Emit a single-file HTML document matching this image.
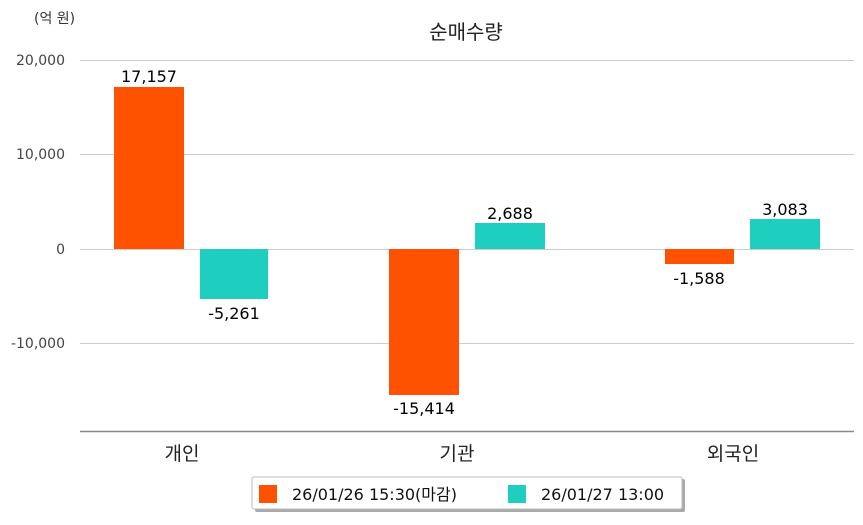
<!DOCTYPE html>
<html><head><meta charset="utf-8"><style>
body{margin:0;background:#fff;}
svg text{font-family:"DejaVu Sans","Noto Sans CJK KR",sans-serif;}
</style></head><body>
<svg width="863" height="520" xmlns="http://www.w3.org/2000/svg">
<rect width="863" height="520" fill="#fff"/>
<text x="34" y="23" font-size="14" fill="#333">(억 원)</text>
<text x="466" y="39" font-size="20" text-anchor="middle" fill="#222">순매수량</text>
<g stroke="#ccc" stroke-width="1">
<line x1="80" y1="60.5" x2="854" y2="60.5"/>
<line x1="80" y1="154.5" x2="854" y2="154.5"/>
<line x1="80" y1="249.5" x2="854" y2="249.5"/>
<line x1="80" y1="343.5" x2="854" y2="343.5"/>
</g>
<line x1="80" y1="431.5" x2="854" y2="431.5" stroke="#888" stroke-width="1.5"/>
<g font-size="14" fill="#444" text-anchor="end">
<text x="65" y="65">20,000</text>
<text x="65" y="159">10,000</text>
<text x="65" y="254">0</text>
<text x="65" y="348">-10,000</text>
</g>
<g fill="#ff5200">
<rect x="114" y="87" width="70" height="162"/>
<rect x="389" y="249" width="70" height="146"/>
<rect x="665" y="249" width="69" height="15"/>
</g>
<g fill="#1ecfbf">
<rect x="200" y="249" width="68" height="50"/>
<rect x="475" y="223" width="70" height="26"/>
<rect x="750" y="219" width="70" height="30"/>
</g>
<g font-size="16" fill="#000" text-anchor="middle">
<text x="149" y="82">17,157</text>
<text x="234" y="319">-5,261</text>
<text x="424" y="414">-15,414</text>
<text x="510" y="219">2,688</text>
<text x="699" y="284">-1,588</text>
<text x="785" y="215">3,083</text>
</g>
<g font-size="19" fill="#222" text-anchor="middle">
<text x="182" y="460">개인</text>
<text x="457" y="460">기관</text>
<text x="733" y="460">외국인</text>
</g>
<rect x="255" y="479" width="430" height="33" fill="#aaa" rx="2"/>
<rect x="252" y="477" width="430" height="32" fill="#fff" stroke="#bbb" rx="2"/>
<rect x="259" y="485" width="18" height="18" fill="#ff5200"/>
<text x="292" y="500" font-size="16" fill="#111">26/01/26 15:30(마감)</text>
<rect x="508" y="485" width="18" height="18" fill="#1ecfbf"/>
<text x="541" y="500" font-size="16" fill="#111">26/01/27 13:00</text>
</svg>
</body></html>
